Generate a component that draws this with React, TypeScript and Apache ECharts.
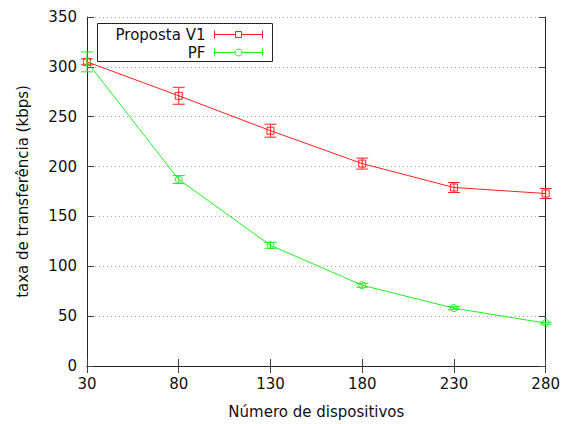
import React, { useEffect, useRef } from "react";
import * as echarts from "echarts";

const categories = ["30", "80", "130", "180", "230", "280"];
const propostaValues = [305, 271, 236, 203, 179, 173];
const propostaErrors = [3, 8.5, 6.5, 5.5, 5, 5];
const pfValues = [305, 187, 121, 81, 58, 43];
const pfErrors = [10, 4, 3, 2, 1.5, 1];
const yTicks = { min: 0, max: 350, interval: 50 };

const RED = "#ff2020";
const GREEN = "#22ee22";
const FONT = "DejaVu Sans";

function errorSeries(name: string, values: number[], errors: number[], color: string) {
  const data = values.map((v, i) => [i, v - errors[i], v + errors[i]]);
  return {
    type: "custom",
    name: name + " err",
    xAxisIndex: 0,
    yAxisIndex: 0,
    silent: true,
    z: 3,
    renderItem: (params: any, api: any) => {
      const x = api.value(0);
      const lo = api.coord([x, api.value(1)]);
      const hi = api.coord([x, api.value(2)]);
      const w = 6;
      const style = { stroke: color, lineWidth: 1 };
      return {
        type: "group",
        children: [
          { type: "line", shape: { x1: lo[0], y1: lo[1], x2: hi[0], y2: hi[1] }, style },
          { type: "line", shape: { x1: lo[0] - w, y1: lo[1], x2: lo[0] + w, y2: lo[1] }, style },
          { type: "line", shape: { x1: hi[0] - w, y1: hi[1], x2: hi[0] + w, y2: hi[1] }, style },
        ],
      };
    },
    data,
  };
}

export default function App() {
  const ref = useRef<HTMLDivElement>(null);
  useEffect(() => {
    if (!ref.current) return;
    const chart = echarts.init(ref.current, null, { renderer: "svg" });
    const axisLine = { show: true, lineStyle: { color: "#222", width: 1 } };
    chart.setOption({
      animation: false,
      backgroundColor: "#fff",
      grid: { left: 87, right: 16, top: 17, bottom: 58, containLabel: false },
      xAxis: [
        {
          type: "category",
          data: categories,
          boundaryGap: false,
          position: "bottom",
          axisLine,
          axisTick: { show: true, inside: true, length: 7, lineStyle: { color: "#444" } },
          axisLabel: { color: "#111", fontFamily: FONT, fontSize: 15, margin: 10 },
          splitLine: { show: false },
          name: "Número de dispositivos",
          nameLocation: "middle",
          nameGap: 38,
          nameTextStyle: { color: "#111", fontFamily: FONT, fontSize: 15 },
        },
        {
          type: "category",
          data: categories,
          boundaryGap: false,
          position: "top",
          axisLine,
          axisTick: { show: true, inside: true, length: 7, lineStyle: { color: "#444" } },
          axisLabel: { show: false },
          splitLine: { show: false },
        },
      ],
      yAxis: [
        {
          type: "value",
          min: yTicks.min,
          max: yTicks.max,
          interval: yTicks.interval,
          position: "left",
          axisLine,
          axisTick: { show: true, inside: true, length: 7, lineStyle: { color: "#444" } },
          axisLabel: { color: "#111", fontFamily: FONT, fontSize: 15, margin: 10 },
          splitLine: { show: true, lineStyle: { color: "#aaa", type: [1, 3], width: 1 } },
          name: "taxa de transferência (kbps)",
          nameLocation: "middle",
          nameGap: 57,
          nameTextStyle: { color: "#111", fontFamily: FONT, fontSize: 15 },
        },
        {
          type: "value",
          min: yTicks.min,
          max: yTicks.max,
          interval: yTicks.interval,
          position: "right",
          axisLine,
          axisTick: { show: true, inside: true, length: 7, lineStyle: { color: "#444" } },
          axisLabel: { show: false },
          splitLine: { show: false },
        },
      ],
      series: [
        errorSeries("Proposta V1", propostaValues, propostaErrors, RED),
        errorSeries("PF", pfValues, pfErrors, GREEN),
        {
          type: "line",
          name: "Proposta V1",
          data: propostaValues,
          symbol: "rect",
          symbolSize: 7,
          showAllSymbol: true,
          lineStyle: { color: RED, width: 1 },
          itemStyle: { color: "rgba(0,0,0,0)", borderColor: RED, borderWidth: 1 },
          z: 4,
        },
        {
          type: "line",
          name: "PF",
          data: pfValues,
          symbol: "circle",
          symbolSize: 7,
          showAllSymbol: true,
          lineStyle: { color: GREEN, width: 1 },
          itemStyle: { color: "rgba(0,0,0,0)", borderColor: GREEN, borderWidth: 1 },
          z: 4,
        },
      ],
      graphic: [
        {
          type: "group",
          left: 97,
          top: 23,
          z: 100,
          children: [
            { type: "rect", shape: { x: 0, y: 0, width: 175, height: 38 }, style: { fill: "#fff", stroke: "#222", lineWidth: 1 } },
            { type: "text", x: 108, y: 11, style: { text: "Proposta V1", fill: "#111", font: `15px "${FONT}"`, align: "right", verticalAlign: "middle" } },
            { type: "text", x: 108, y: 29, style: { text: "PF", fill: "#111", font: `15px "${FONT}"`, align: "right", verticalAlign: "middle" } },
            { type: "line", shape: { x1: 117, y1: 11, x2: 165, y2: 11 }, style: { stroke: RED, lineWidth: 1 } },
            { type: "line", shape: { x1: 117, y1: 7, x2: 117, y2: 15 }, style: { stroke: RED, lineWidth: 1 } },
            { type: "line", shape: { x1: 165, y1: 7, x2: 165, y2: 15 }, style: { stroke: RED, lineWidth: 1 } },
            { type: "rect", shape: { x: 138, y: 8, width: 6, height: 6 }, style: { fill: "#fff", stroke: RED, lineWidth: 1 } },
            { type: "line", shape: { x1: 117, y1: 29, x2: 165, y2: 29 }, style: { stroke: GREEN, lineWidth: 1 } },
            { type: "line", shape: { x1: 117, y1: 25, x2: 117, y2: 33 }, style: { stroke: GREEN, lineWidth: 1 } },
            { type: "line", shape: { x1: 165, y1: 25, x2: 165, y2: 33 }, style: { stroke: GREEN, lineWidth: 1 } },
            { type: "circle", shape: { cx: 141, cy: 29, r: 3.5 }, style: { fill: "#fff", stroke: GREEN, lineWidth: 1 } },
          ],
        },
      ],
    });
    return () => chart.dispose();
  }, []);
  return <div ref={ref} style={{ width: 563, height: 424, position: "absolute", left: 0, top: 0 }} />;
}
